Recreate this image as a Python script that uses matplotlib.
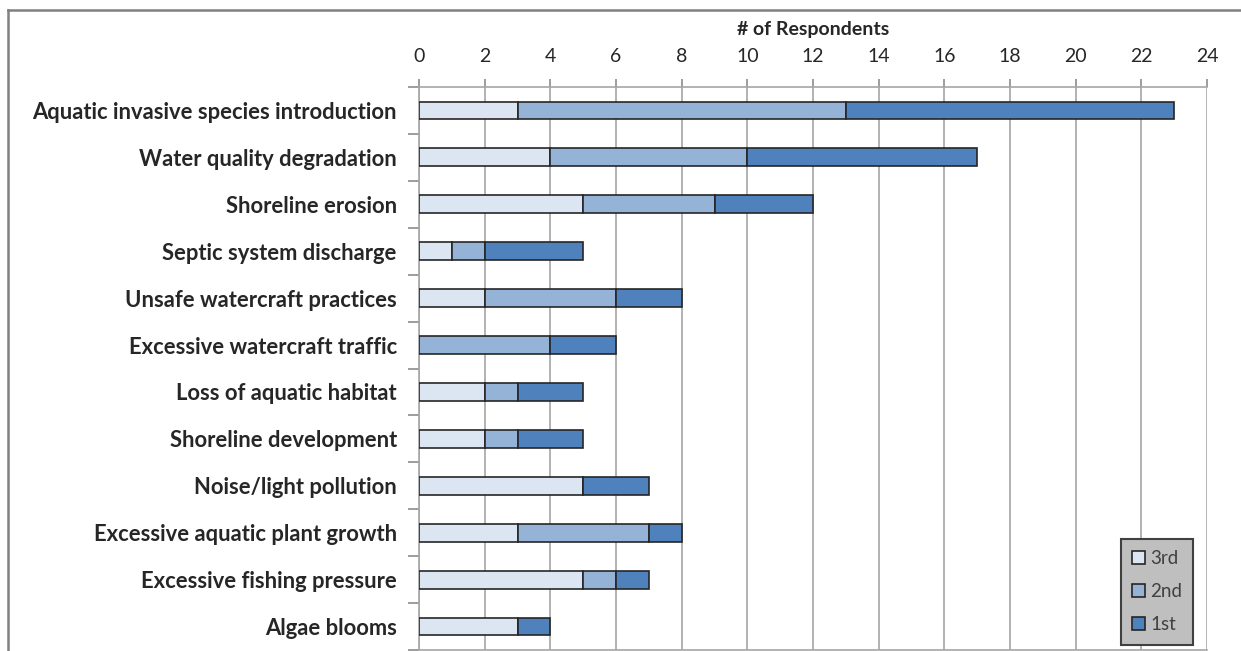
import matplotlib.pyplot as plt
import numpy as np
from matplotlib.lines import Line2D

categories = [
    "Aquatic invasive species introduction",
    "Water quality degradation",
    "Shoreline erosion",
    "Septic system discharge",
    "Unsafe watercraft practices",
    "Excessive watercraft traffic",
    "Loss of aquatic habitat",
    "Shoreline development",
    "Noise/light pollution",
    "Excessive aquatic plant growth",
    "Excessive fishing pressure",
    "Algae blooms",
]
third = [3, 4, 5, 1, 2, 0, 2, 2, 5, 3, 5, 3]
second = [10, 6, 4, 1, 4, 4, 1, 1, 0, 4, 1, 0]
first = [10, 7, 3, 3, 2, 2, 2, 2, 2, 1, 1, 1]
x_ticks = list(range(0, 25, 2))

plt.rcParams['font.family'] = ['Lato', 'DejaVu Sans']

fig = plt.figure(figsize=(12.41, 6.51), dpi=100)
ax = fig.add_axes([419 / 1241, 1 - 650 / 651, (1207 - 419) / 1241, (650 - 87) / 651])

y = np.arange(len(categories))
h = 0.38
edge = dict(edgecolor="#262626", linewidth=1.2)
ax.barh(y, third, height=h, color="#DCE6F2", label="3rd", zorder=3, **edge)
ax.barh(y, second, height=h, left=third, color="#95B3D7", label="2nd", zorder=3, **edge)
left1 = np.array(third) + np.array(second)
ax.barh(y, first, height=h, left=left1, color="#4F81BD", label="1st", zorder=3, **edge)

ax.set_xlim(0, 24)
ax.set_ylim(len(categories) - 0.5, -0.5)
ax.xaxis.tick_top()
ax.xaxis.set_label_position("top")
ax.set_xticks(x_ticks)
ax.tick_params(axis="x", length=6, width=1.2, color="#8C8C8C", labelsize=14,
               labelcolor="#262626", pad=10)
ax.set_xlabel("# of Respondents", fontsize=14, fontweight="bold", labelpad=9,
              color="#262626")
ax.grid(axis="x", color="#A6A6A6", linewidth=1.2, zorder=0)

ax.set_yticks(y)
ax.set_yticklabels(categories, fontsize=15.8, fontweight="bold", color="#262626")
ax.tick_params(axis="y", length=0, pad=16)
ax.set_yticks(np.arange(len(categories) + 1) - 0.5, minor=True)
ax.tick_params(axis="y", which="minor", length=8, width=1.2, color="#8C8C8C")

for s in ["top", "left", "bottom"]:
    ax.spines[s].set_color("#A6A6A6")
    ax.spines[s].set_linewidth(1.2)
ax.spines["right"].set_visible(False)

handles, labels = ax.get_legend_handles_labels()
leg = ax.legend(handles, labels, loc="lower right", bbox_to_anchor=(0.9875, 0.003),
                fontsize=13.5, frameon=True, fancybox=False, handlelength=0.7,
                handleheight=0.7, handletextpad=0.25, labelspacing=0.85,
                borderpad=0.6, borderaxespad=0.2, labelcolor="#404040")
leg.get_frame().set_facecolor("#BFBFBF")
leg.get_frame().set_edgecolor("#404040")
leg.get_frame().set_linewidth(1.5)
leg.get_frame().set_alpha(1)

# outer frame (partially cropped chart border)
fig.add_artist(Line2D([8 / 1241, 1], [1 - 10 / 651, 1 - 10 / 651], color="#808080",
                      linewidth=1.8, transform=fig.transFigure))
fig.add_artist(Line2D([8 / 1241, 8 / 1241], [0, 1 - 10 / 651], color="#808080",
                      linewidth=1.8, transform=fig.transFigure))

fig.savefig("out.png", dpi=100)
